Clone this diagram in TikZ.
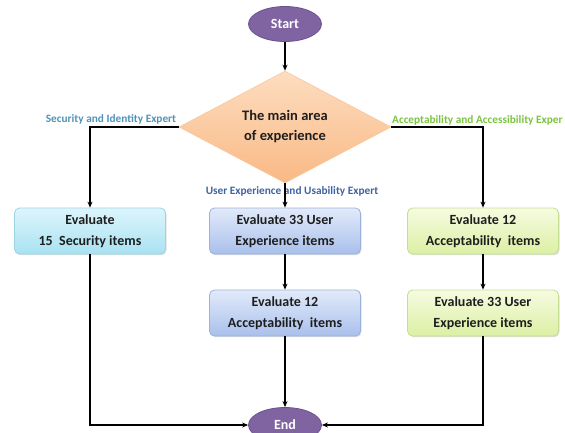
\documentclass[tikz,border=0pt]{standalone}
\usepackage{fontspec}
\setmainfont{Carlito}
\usetikzlibrary{shapes.geometric,arrows.meta,shadows}
\definecolor{purp}{HTML}{8064A2}
\definecolor{purpd}{HTML}{6A5290}
\definecolor{txt}{HTML}{1E1E1E}
\definecolor{secc}{HTML}{4F93B8}
\definecolor{uxc}{HTML}{3F62A0}
\definecolor{accc}{HTML}{7CC242}
\definecolor{ctop}{HTML}{DDF5FC}
\definecolor{cbot}{HTML}{A8E2F2}
\definecolor{cdr}{HTML}{9DD3E3}
\definecolor{btop}{HTML}{E2EAFA}
\definecolor{bbot}{HTML}{A9C0EC}
\definecolor{bdr}{HTML}{9AB2DC}
\definecolor{gtop}{HTML}{F6FBE0}
\definecolor{gbot}{HTML}{DBF0A4}
\definecolor{gdr}{HTML}{C6DE92}
\definecolor{dtop}{HTML}{FDDDC0}
\definecolor{dbot}{HTML}{F9B985}
\tikzset{
  term/.style={ellipse, fill=purp, draw=purpd, line width=0.8pt, minimum width=73pt, minimum height=35pt, inner sep=0pt, text=white, font=\fontsize{14}{16}\selectfont\bfseries},
  box/.style={rounded corners=5pt, minimum width=151pt, minimum height=46pt, inner sep=2pt, align=center, text=txt, line width=0.8pt, font=\fontsize{14}{21}\selectfont\bfseries, drop shadow={opacity=0.25, shadow xshift=1pt, shadow yshift=-1.2pt}},
  cyanbox/.style={box, top color=ctop, bottom color=cbot, draw=cdr},
  bluebox/.style={box, top color=btop, bottom color=bbot, draw=bdr},
  greenbox/.style={box, top color=gtop, bottom color=gbot, draw=gdr},
  lab/.style={inner sep=0pt, font=\fontsize{11.3}{12}\selectfont\bfseries},
  arr/.style={-{Stealth[length=6pt,width=5pt]}, line width=1.2pt, black},
}
\begin{document}
\begin{tikzpicture}[x=1pt,y=-1pt]
\useasboundingbox (0,0) rectangle (565,432);
\node[term] (start) at (285,24) {Start};
\node[diamond, top color=dtop, bottom color=dbot, draw=dbot!80!white, line width=0.6pt, minimum width=212pt, minimum height=112pt, aspect=1.9, inner sep=0pt, align=center, text=txt, font=\fontsize{14.5}{20}\selectfont\bfseries] (dia) at (285,127) {The main area\\of experience};
\node[cyanbox] (l1) at (90,231) {Evaluate\\15\ \ Security items};
\node[bluebox] (m1) at (285,231) {Evaluate 33 User\\Experience items};
\node[bluebox] (m2) at (285,313) {Evaluate 12\\Acceptability\ \ items};
\node[greenbox] (r1) at (483,231) {Evaluate 12\\Acceptability\ \ items};
\node[greenbox] (r2) at (483,313) {Evaluate 33 User\\Experience items};
\node[term] (end) at (285,425) {End};
\node[lab, text=secc] (secl) at (111,119) {Security and Identity Expert};
\node[lab, text=uxc] (uxl) at (292,191) {User Experience and Usability Expert};
\node[lab, text=accc, anchor=west] (accl) at (392,120) {Acceptability and Accessibility Exper};
\draw[arr] (start) -- (dia.north);
\draw[arr] (dia.west) -| (l1.north);
\draw[arr] (dia.south) -- (m1.north);
\draw[arr] (dia.east) -| (r1.north);
\draw[arr] (m1) -- (m2);
\draw[arr] (r1) -- (r2);
\draw[arr] (l1.south) |- (end.west);
\draw[arr] (m2) -- (end.north);
\draw[arr] (r2.south) |- (end.east);
\end{tikzpicture}
\end{document}
